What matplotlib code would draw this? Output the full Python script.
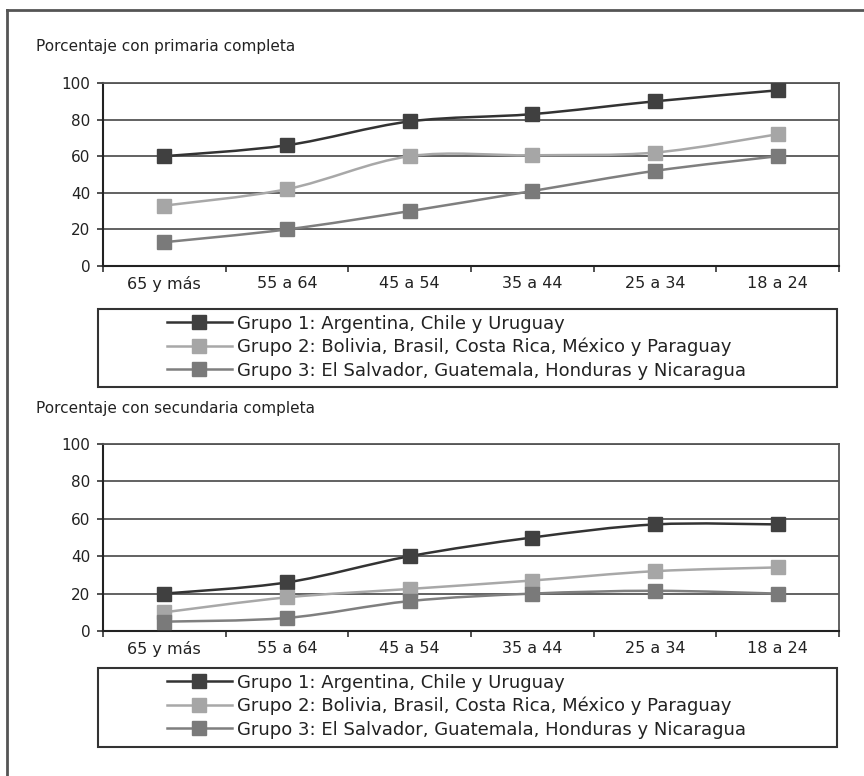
import numpy as np
import matplotlib.pyplot as plt
from matplotlib.path import Path
from matplotlib.patches import PathPatch, Rectangle
from matplotlib.lines import Line2D

plt.rcParams['font.family'] = ['DejaVu Sans']

# Age groups (categories)
categories = ["65 y más", "55 a 64", "45 a 54", "35 a 44", "25 a 34", "18 a 24"]

series_labels = [
    "Grupo 1: Argentina, Chile y Uruguay",
    "Grupo 2: Bolivia, Brasil, Costa Rica, México y Paraguay",
    "Grupo 3: El Salvador, Guatemala, Honduras y Nicaragua",
]

# Porcentaje con primaria completa
primaria_g1 = [60, 66, 79, 83, 90, 96]
primaria_g2 = [33, 42, 60, 60.5, 62, 72]
primaria_g3 = [13, 20, 30, 41, 52, 60]

# Porcentaje con secundaria completa
secundaria_g1 = [20, 26, 40, 50, 57, 57]
secundaria_g2 = [10, 18, 22.5, 27, 32, 34]
secundaria_g3 = [5, 7, 16, 20, 21.5, 20]

titles = ["Porcentaje con primaria completa", "Porcentaje con secundaria completa"]

line_colors = ["#333333", "#a8a8a8", "#7f7f7f"]
marker_colors = ["#404040", "#a6a6a6", "#7a7a7a"]
grid_color = "#555555"
text_color = "#222222"


def smooth_path(xs, ys):
    # Excel-style smoothed line: cubic bezier through the points
    pts = np.column_stack([xs, ys]).astype(float)
    verts = [pts[0]]
    codes = [Path.MOVETO]
    n = len(pts)
    for i in range(n - 1):
        p0 = pts[max(i - 1, 0)]
        p1 = pts[i]
        p2 = pts[i + 1]
        p3 = pts[min(i + 2, n - 1)]
        c1 = p1 + (p2 - p0) / 6.0
        c2 = p2 - (p3 - p1) / 6.0
        verts += [c1, c2, p2]
        codes += [Path.CURVE4] * 3
    return Path(verts, codes)


fig = plt.figure(figsize=(8.64, 7.76), dpi=100)
W, H = 864.0, 776.0

# outer frame (left and top edges)
fig.add_artist(Line2D([7 / W, 7 / W], [0, 1 - 10 / H], color="#555555", lw=2))
fig.add_artist(Line2D([7 / W, 1], [1 - 10 / H, 1 - 10 / H], color="#555555", lw=2))

panels = [
    (titles[0], [primaria_g1, primaria_g2, primaria_g3], 83, 266, 47, 309, 387),
    (titles[1], [secundaria_g1, secundaria_g2, secundaria_g3], 444, 631, 408, 668, 747),
]

x = np.arange(len(categories))

for title, data, top_px, bot_px, title_px, leg_top, leg_bot in panels:
    ax = fig.add_axes([103 / W, 1 - bot_px / H, (839 - 103) / W, (bot_px - top_px) / H])

    for vals, lc, mc in zip(data, line_colors, marker_colors):
        ax.add_patch(PathPatch(smooth_path(x, vals), facecolor="none",
                               edgecolor=lc, lw=1.8, zorder=3))
        ax.plot(x, vals, "s", color=mc, markersize=9.5,
                markeredgecolor=mc, zorder=4)

    ax.set_xlim(-0.5, len(categories) - 0.5)
    ax.set_ylim(0, 100)
    ax.set_yticks(range(0, 101, 20))
    ax.set_xticks(np.arange(-0.5, len(categories), 1.0))
    ax.set_xticklabels([])
    ax.set_xticks(x, minor=True)
    ax.set_xticklabels(categories, minor=True)
    ax.tick_params(axis="x", which="minor", length=0, pad=7,
                   labelsize=11.5, labelcolor=text_color)
    ax.tick_params(axis="x", which="major", length=4, width=1.2,
                   color="#333333", direction="out")
    ax.tick_params(axis="y", length=4, width=1.2, color="#333333",
                   direction="out", labelsize=11, labelcolor=text_color, pad=5)

    ax.grid(True, axis="y", color=grid_color, lw=1.3)
    ax.set_axisbelow(True)
    for side in ["left", "bottom"]:
        ax.spines[side].set_color("#222222")
        ax.spines[side].set_linewidth(1.5)
    for side in ["top", "right"]:
        ax.spines[side].set_color(grid_color)
        ax.spines[side].set_linewidth(1.3)

    fig.text(36 / W, 1 - title_px / H, title, fontsize=11,
             color=text_color, va="center", ha="left")

    # legend box
    fig.add_artist(Rectangle((98 / W, 1 - leg_bot / H), (837 - 98) / W,
                             (leg_bot - leg_top) / H, transform=fig.transFigure,
                             facecolor="white", edgecolor="#333333", lw=1.5))
    handles = [Line2D([], [], color=lc, lw=1.8, marker="s", markersize=9.5,
                      markerfacecolor=mc, markeredgecolor=mc)
               for lc, mc in zip(line_colors, marker_colors)]
    fig.legend(handles, series_labels, loc="upper left",
               bbox_to_anchor=(154 / W, 1 - (leg_top - 7) / H),
               frameon=False, fontsize=13, labelcolor=text_color,
               handlelength=3.6, handletextpad=0.3, labelspacing=0.29,
               borderpad=0.2)

fig.savefig("out.png", dpi=100, facecolor="white")
